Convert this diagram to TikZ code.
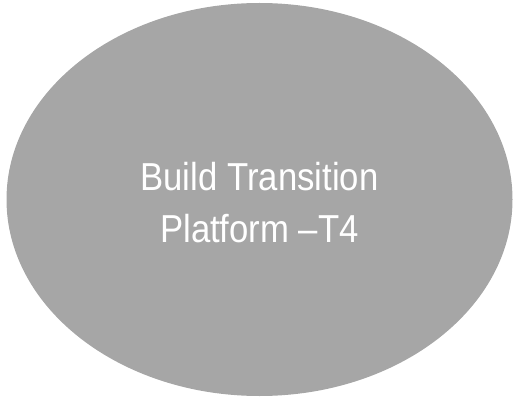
\documentclass[tikz,border=0pt]{standalone}
\usepackage{fontspec}
\usetikzlibrary{shapes.geometric}
\newfontfamily\narrowsans[FakeStretch=0.89]{Liberation Sans}
\definecolor{bubblegray}{HTML}{A6A6A6}
\tikzset{
  bubble/.style={ellipse, fill=bubblegray, draw=none, inner sep=0pt, outer sep=0pt,
    minimum width=506pt, minimum height=393pt},
  bubbletext/.style={text=white, align=center, inner sep=0pt,
    font=\narrowsans\fontsize{39pt}{52pt}\selectfont}
}
\begin{document}
\begin{tikzpicture}[x=1pt,y=1pt]
  \useasboundingbox (0,0) rectangle (514,397);
  \node[bubble] (platform) at (259.5,197.5) {};
  \node[bubbletext] (title) at (259.5,194.8) {Build Transition\\Platform –T4};
\end{tikzpicture}
\end{document}
